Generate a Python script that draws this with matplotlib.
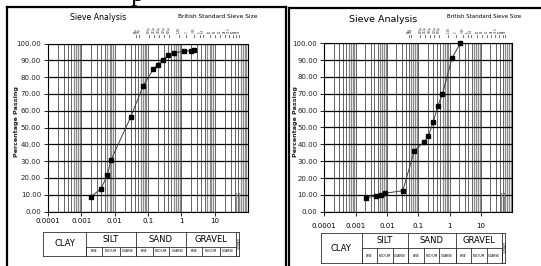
import math
import matplotlib
matplotlib.use('Agg')
import matplotlib.pyplot as plt
from matplotlib.lines import Line2D
from matplotlib.ticker import FixedLocator, FixedFormatter, NullFormatter

W, H = 541, 266
fig = plt.figure(figsize=(W / 100, H / 100), dpi=100)
NARROW = ['Liberation Sans Narrow', 'DejaVu Sans']

# ---------------- data ----------------
left_size = [0.0019, 0.0039, 0.0060, 0.0077, 0.030, 0.072, 0.145, 0.20, 0.28, 0.40, 0.60, 1.2, 2.0, 2.4]
left_pass = [8.6, 13.6, 21.6, 30.5, 56.1, 74.9, 84.8, 87.4, 90.4, 93.0, 94.4, 95.4, 95.8, 96.0]
right_size = [0.0021, 0.0044, 0.0063, 0.0085, 0.032, 0.075, 0.153, 0.21, 0.30, 0.42, 0.59, 1.18, 2.16]
right_pass = [8.3, 9.3, 9.8, 10.9, 12.5, 36.3, 41.3, 45.1, 53.2, 62.9, 69.9, 91.0, 100.0]

x_ticks = [0.0001, 0.001, 0.01, 0.1, 1, 10]
x_tick_labels = ['0.0001', '0.001', '0.01', '0.1', '1', '10']
y_ticks = [0, 10, 20, 30, 40, 50, 60, 70, 80, 90, 100]
sieve_sizes = [0.063, 0.075, 0.15, 0.212, 0.3, 0.425, 0.6, 1.18, 2, 3.35, 5, 6.3, 10, 14, 20, 28, 37.5, 50, 63, 75]
sieve_labels = ['63µ', '75µ', '150µ', '212µ', '300µ', '425µ', '600µ', '1.18', '2', '3.35',
                '5', '6.3', '10', '14', '20', '28', '37.5', '50', '63', '75']
soil_groups = ['CLAY', 'SILT', 'SAND', 'GRAVEL']
group_bounds = [0.0001, 0.002, 0.06, 2, 60]
sub_bounds = [0.002, 0.006, 0.02, 0.06, 0.2, 0.6, 2, 6, 20, 60]
sub_names = ['FINE', 'MEDIUM', 'COARSE'] * 3
cobble_end = 75
cobble_bars = [45, 55]
cobble_bar_height = 11


def fx(px):
    return px / W


def fy(py):
    return 1 - py / H


def box_axes(x0, x1, y0, y1):
    return fig.add_axes([fx(x0), fy(y1), fx(x1) - fx(x0), fy(y0) - fy(y1)])


def panel(px0, px1, py0, py1, shift, t_rows, lab_pad, title_xy, title_fs, bss_xy, bss_fs,
          ylab_x, sizes, passing):
    ax = box_axes(px0, px1, py0, py1)
    ax.set_xscale('log')
    ax.set_xlim(1e-4, 100)
    ax.set_ylim(0, 100)
    for d in [1e-4, 1e-3, 1e-2, 1e-1, 1, 10]:
        for k in range(1, 10):
            if k >= 6:
                ax.axvline(d * k, color='#8c8c8c', lw=0.9, zorder=1)
            else:
                ax.axvline(d * k, color='#3c3c3c', lw=0.55, zorder=1)
    for yv in y_ticks:
        ax.axhline(yv, color='black', lw=0.9, zorder=2)
    for xb in cobble_bars:
        ax.plot([xb, xb], [0, cobble_bar_height], color='#8c8c8c', lw=1.0, zorder=2)
    ax.plot(sizes, passing, color='#404040', lw=0.7, marker='s', ms=2.8,
            mfc='black', mec='black', zorder=4, clip_on=False)
    ax.xaxis.set_major_locator(FixedLocator(x_ticks))
    ax.xaxis.set_major_formatter(FixedFormatter(x_tick_labels))
    ax.xaxis.set_minor_formatter(NullFormatter())
    ax.tick_params(axis='x', which='minor', length=0)
    ax.tick_params(axis='x', which='major', length=3, width=0.6, pad=lab_pad,
                   labelsize=5, direction='out')
    ax.set_yticks(y_ticks)
    ax.set_yticklabels([f'{v:.2f}' for v in y_ticks])
    ax.tick_params(axis='y', length=3, width=0.6, pad=2, labelsize=5, direction='out',
                   labelcolor='#222222')
    for lab in ax.get_xticklabels() + ax.get_yticklabels():
        lab.set_family(NARROW)
    for s in ax.spines.values():
        s.set_color('black')
        s.set_linewidth(0.8)

    # shifted overlay for classification table
    tax = box_axes(px0 + shift, px1 + shift, t_rows[0], t_rows[2])
    tax.set_xscale('log')
    tax.set_xlim(1e-4, 100)
    tax.set_ylim(0, 1)
    tax.axis('off')
    ymid = (t_rows[2] - t_rows[1]) / (t_rows[2] - t_rows[0])
    lk = dict(color='#303030', lw=0.6, clip_on=False)
    tax.plot([group_bounds[0], cobble_end], [1, 1], **lk)
    tax.plot([group_bounds[0], cobble_end], [0, 0], **lk)
    tax.plot([group_bounds[1], group_bounds[-1]], [ymid, ymid], **lk)
    for b in group_bounds + [cobble_end]:
        tax.plot([b, b], [0, 1], **lk)
    for b in sub_bounds:
        tax.plot([b, b], [0, ymid], **lk)
    for i, name in enumerate(soil_groups):
        a, b = group_bounds[i], group_bounds[i + 1]
        xc = math.sqrt(a * b)
        yc = 0.5 if name == 'CLAY' else (1 + ymid) / 2
        tax.text(xc, yc, name, ha='center', va='center', fontsize=6, family=NARROW)
    for i, name in enumerate(sub_names):
        xc = math.sqrt(sub_bounds[i] * sub_bounds[i + 1])
        tax.text(xc, ymid / 2, name, ha='center', va='center', fontsize=2.2, family=NARROW)
    tax.text(math.sqrt(60 * cobble_end), 0.5, 'COBBLES', ha='center', va='center',
             fontsize=1.8, rotation=-90, family=NARROW)

    # shifted overlay for sieve labels
    sax = box_axes(px0 + shift, px1 + shift, 20, 38)
    sax.set_xscale('log')
    sax.set_xlim(1e-4, 100)
    sax.set_ylim(0, 1)
    sax.axis('off')
    for s, lab in zip(sieve_sizes, sieve_labels):
        sax.plot([s, s], [0.0, 0.17], color='#333333', lw=0.5)
        sax.text(s, 0.3, lab, rotation=90, ha='center', va='bottom', fontsize=1.9,
                 family=NARROW, color='#222222')

    fig.text(fx(title_xy[0]), fy(title_xy[1]), 'Sieve Analysis', ha='center', va='center',
             fontsize=title_fs, family=NARROW)
    fig.text(fx(bss_xy[0]), fy(bss_xy[1]), 'British Standard Sieve Size', ha='center',
             va='center', fontsize=bss_fs, family=NARROW)
    fig.text(fx(ylab_x), fy(122), 'Percentage Passing', rotation=90, ha='center', va='center',
             fontsize=4.6, fontweight='bold', family=NARROW, color='#222222')
    return ax


panel(48, 248, 43.5, 211.5, -5, (231.7, 246.7, 256), 2, (98, 18), 5.6, (218, 16.5), 4.2, 17,
      left_size, left_pass)
panel(324.3, 512.3, 43.3, 211.7, -3.5, (233.3, 248.3, 263.3), 5, (383, 20), 6.8, (484, 16.5), 4.0,
      296, right_size, right_pass)


def fline(x0, y0, x1, y1, lw=1.6):
    fig.add_artist(Line2D([fx(x0), fx(x1)], [fy(y0), fy(y1)], color='black', lw=lw))


# panel frames
fline(7, 6.5, 285.5, 6.5)
fline(7, 6.5, 7, 266)
fline(285.5, 6.5, 285.5, 266)
fline(288.5, 8, 541, 8)
fline(288.5, 8, 288.5, 266)

fig.text(fx(137), fy(1), 'p', ha='center', va='baseline', fontsize=19,
         family=['Liberation Serif', 'DejaVu Serif'])

fig.savefig('out.png', dpi=100)
